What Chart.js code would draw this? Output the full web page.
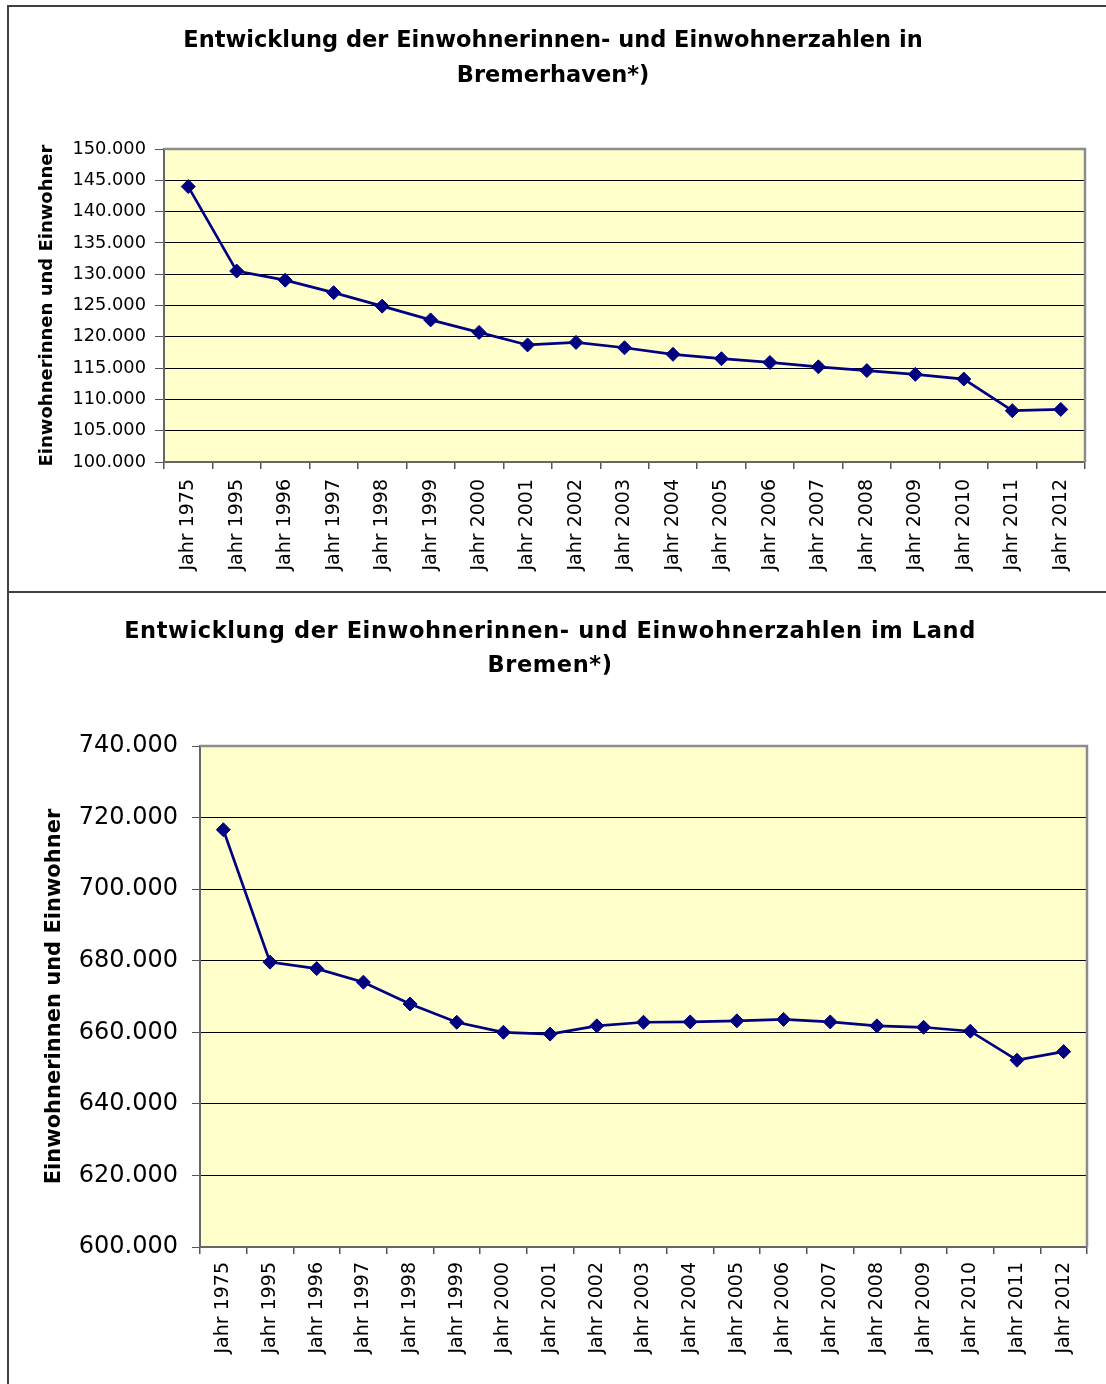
<!DOCTYPE html>
<html lang="de">
<head>
<meta charset="utf-8">
<title>Einwohnerinnen und Einwohner Bremerhaven / Land Bremen</title>
<script src="https://cdn.jsdelivr.net/npm/chart.js@4.4.1/dist/chart.umd.min.js"></script>
<style>
  html, body { margin: 0; padding: 0; background: #fff; }
  body { width: 1106px; height: 1384px; position: relative; overflow: hidden; font-family: 'DejaVu Sans', sans-serif; }
  .frame { position: absolute; left: 7px; top: 5px; right: -10px; bottom: -10px; border-left: 2px solid #404040; border-top: 2px solid #404040; }
  .sep { position: absolute; left: 7px; right: 0; top: 591px; border-top: 2px solid #404040; }
  .title { position: absolute; left: 0; width: 1106px; text-align: center; font-weight: bold; font-size: 22.5px; color: #000; }
  #title1 { top: 22px; line-height: 35px; }
  #title2 { top: 613px; line-height: 34px; left: -3px; letter-spacing: 0.6px; }
  canvas { position: absolute; left: 0; }
  #chart1 { top: 0; }
  #chart2 { top: 592px; }
</style>
</head>
<body>
<div class="frame"></div>
<div class="sep"></div>
<canvas id="chart1" width="1106" height="592"></canvas>
<canvas id="chart2" width="1106" height="792"></canvas>
<div class="title" id="title1">Entwicklung der Einwohnerinnen- und Einwohnerzahlen in<br>Bremerhaven*)</div>
<div class="title" id="title2">Entwicklung der Einwohnerinnen- und Einwohnerzahlen im Land<br>Bremen*)</div>
<script>
const years = ['Jahr 1975', 'Jahr 1995', 'Jahr 1996', 'Jahr 1997', 'Jahr 1998', 'Jahr 1999', 'Jahr 2000',
  'Jahr 2001', 'Jahr 2002', 'Jahr 2003', 'Jahr 2004', 'Jahr 2005', 'Jahr 2006', 'Jahr 2007',
  'Jahr 2008', 'Jahr 2009', 'Jahr 2010', 'Jahr 2011', 'Jahr 2012'];

const bremerhaven = [144000, 130500, 129050, 127050, 124900, 122700, 120700, 118700, 119100, 118250,
  117200, 116500, 115900, 115200, 114600, 114000, 113250, 108200, 108400];

const landBremen = [716600, 679600, 677800, 674000, 667900, 662800, 660000, 659500, 661800, 662800,
  662900, 663200, 663600, 662900, 661800, 661400, 660300, 652200, 654600];

const axisTitle = 'Einwohnerinnen und Einwohner';

const lineColor = '#000080';
const plotBg = '#FFFFCC';

// thousands with a dot, like 150.000
const fmt = (v) => String(v).replace(/\B(?=(\d{3})+(?!\d))/g, '.');

// yellow plot background + grey frame on top/right
const plotFrame = {
  id: 'plotFrame',
  beforeDraw(chart) {
    const { ctx, chartArea: a } = chart;
    ctx.save();
    ctx.fillStyle = plotBg;
    ctx.fillRect(a.left, a.top, a.right - a.left, a.bottom - a.top);
    ctx.restore();
  },
  afterDraw(chart) {
    const { ctx, chartArea: a } = chart;
    ctx.save();
    ctx.strokeStyle = '#8c8c8c';
    ctx.lineWidth = 2.5;
    ctx.beginPath();
    ctx.moveTo(a.left, a.top);
    ctx.lineTo(a.right, a.top);
    ctx.lineTo(a.right, a.bottom);
    ctx.stroke();
    ctx.restore();
  }
};

function makeChart(canvasId, values, cfg) {
  return new Chart(document.getElementById(canvasId), {
    type: 'line',
    data: {
      labels: years,
      datasets: [{
        data: values,
        borderColor: lineColor,
        backgroundColor: lineColor,
        borderWidth: 2.7,
        pointStyle: 'rectRot',
        pointRadius: 7,
        pointBorderWidth: 1,
        pointBackgroundColor: lineColor,
        pointBorderColor: lineColor,
        tension: 0,
        fill: false
      }]
    },
    options: {
      responsive: false,
      animation: false,
      events: [],
      layout: { padding: { left: 0, top: cfg.top, right: cfg.right, bottom: 0 } },
      plugins: { legend: { display: false }, tooltip: { enabled: false }, title: { display: false } },
      scales: {
        x: {
          offset: true,
          grid: { display: true, drawOnChartArea: false, drawTicks: true, tickLength: 7, offset: true, tickColor: '#555', lineWidth: 1.5 },
          border: { color: '#666', width: 2 },
          ticks: {
            autoSkip: false, minRotation: 90, maxRotation: 90, padding: cfg.xPad, color: '#000',
            font: { family: 'DejaVu Sans', size: 19 }
          },
          afterFit: (s) => { s.height = cfg.xHeight; }
        },
        y: {
          min: cfg.min, max: cfg.max,
          grid: { color: '#000', lineWidth: 1, drawTicks: true, tickLength: cfg.yTick, tickColor: '#555' },
          border: { color: '#666', width: 2 },
          ticks: {
            stepSize: cfg.step, padding: cfg.yPad, color: '#000',
            font: { family: 'DejaVu Sans', size: cfg.yFont },
            callback: (v) => fmt(v)
          },
          title: {
            display: true, text: axisTitle, color: '#000',
            font: { family: 'DejaVu Sans', weight: 'bold', size: cfg.titleFont },
            padding: { top: cfg.titlePad, bottom: 0 }
          },
          afterFit: (s) => { s.width = cfg.yWidth; }
        }
      }
    },
    plugins: [plotFrame]
  });
}

makeChart('chart1', bremerhaven, {
  top: 149, right: 21, xHeight: 130, yWidth: 164,
  min: 100000, max: 150000, step: 5000,
  yFont: 17.8, yTick: 9, yPad: 9, xPad: 10,
  titleFont: 18, titlePad: 37
});

makeChart('chart2', landBremen, {
  top: 154, right: 19, xHeight: 137, yWidth: 200,
  min: 600000, max: 740000, step: 20000,
  yFont: 24, yTick: 8, yPad: 14, xPad: 8,
  titleFont: 21, titlePad: 42
});
</script>
</body>
</html>
